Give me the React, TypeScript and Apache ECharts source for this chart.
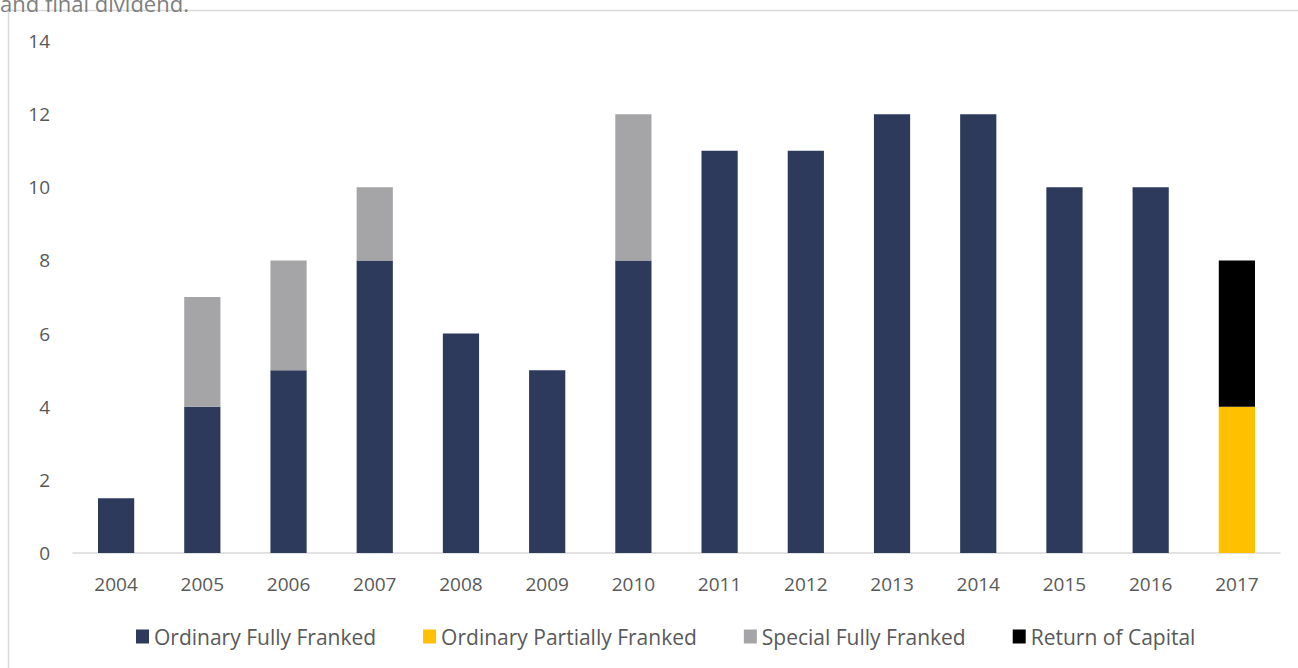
import React, { useEffect, useRef } from "react";
import * as echarts from "echarts";

const years = ["2004", "2005", "2006", "2007", "2008", "2009", "2010", "2011", "2012", "2013", "2014", "2015", "2016", "2017"];
const ordinaryFully = [1.5, 4, 5, 8, 6, 5, 8, 11, 11, 12, 12, 10, 10, 0];
const ordinaryPartially = [0, 0, 0, 0, 0, 0, 0, 0, 0, 0, 0, 0, 0, 4];
const specialFully = [0, 3, 3, 2, 0, 0, 4, 0, 0, 0, 0, 0, 0, 0];
const returnOfCapital = [0, 0, 0, 0, 0, 0, 0, 0, 0, 0, 0, 0, 0, 4];

const FONT = "'Open Sans', sans-serif";

export default function App() {
  const ref = useRef<HTMLDivElement>(null);
  useEffect(() => {
    if (!ref.current) return;
    const chart = echarts.init(ref.current, null, { renderer: "svg" });
    const mk = (name: string, data: number[], color: string) => ({
      name,
      type: "bar",
      stack: "total",
      data: data.map((v) => (v === 0 ? null : v)),
      barCategoryGap: "58%",
      itemStyle: { color },
    });
    chart.setOption({
      animation: false,
      textStyle: { fontFamily: FONT },
      graphic: [
        {
          type: "rect",
          shape: { x: 8.5, y: 10.5, width: 1400, height: 800 },
          style: { fill: "none", stroke: "#D9D9D9", lineWidth: 1.5 },
          silent: true,
        },
        {
          type: "text",
          x: 0,
          y: 14,
          style: {
            text: "and final dividend.",
            fill: "#7F7F7F",
            font: "22px 'Open Sans', sans-serif",
            verticalAlign: "bottom",
          },
        },
      ],
      grid: { left: 73, right: 18, top: 41, bottom: 115, containLabel: false },
      legend: {
        left: 131,
        top: 621,
        itemWidth: 13,
        itemHeight: 14,
        itemGap: 47,
        icon: "rect",
        textStyle: { color: "#595959", fontSize: 21, fontFamily: FONT },
        data: ["Ordinary Fully Franked", "Ordinary Partially Franked", "Special Fully Franked", "Return of Capital"],
      },
      xAxis: {
        type: "category",
        data: years,
        axisLine: { lineStyle: { color: "#D9D9D9", width: 1.5 } },
        axisTick: { show: false },
        axisLabel: { color: "#595959", fontSize: 19, margin: 21, fontFamily: FONT },
      },
      yAxis: {
        type: "value",
        min: 0,
        max: 14,
        interval: 2,
        splitLine: { show: false },
        axisLine: { show: false },
        axisTick: { show: false },
        axisLabel: { color: "#595959", fontSize: 19, margin: 23, fontFamily: FONT },
      },
      series: [
        mk("Ordinary Fully Franked", ordinaryFully, "#2E3A5C"),
        mk("Ordinary Partially Franked", ordinaryPartially, "#FFC000"),
        mk("Special Fully Franked", specialFully, "#A5A5A8"),
        mk("Return of Capital", returnOfCapital, "#000000"),
      ],
    });
    return () => chart.dispose();
  }, []);
  return (
    <div
      ref={ref}
      style={{ position: "fixed", left: 0, top: 0, width: 1298, height: 668, background: "#fff" }}
    />
  );
}
